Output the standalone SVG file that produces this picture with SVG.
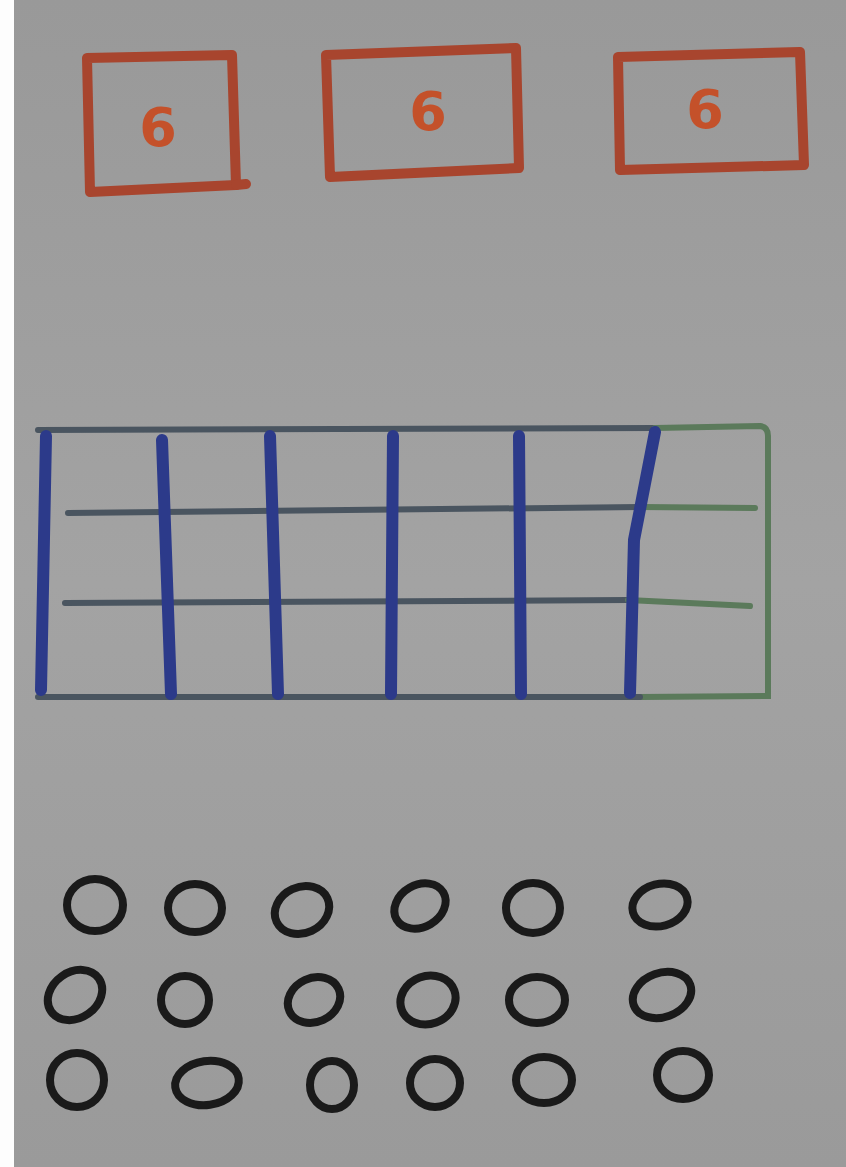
<svg xmlns="http://www.w3.org/2000/svg" width="846" height="1167" viewBox="0 0 846 1167">
<defs>
<linearGradient id="bg" x1="0" y1="0" x2="0" y2="1">
<stop offset="0" stop-color="#999999"/>
<stop offset="0.5" stop-color="#a3a3a3"/>
<stop offset="1" stop-color="#9a9a9a"/>
</linearGradient>
</defs>
<style>
.box{fill:none;stroke:#a8452e;stroke-width:10;stroke-linejoin:round;stroke-linecap:round}
.six{font-family:"DejaVu Sans",sans-serif;font-weight:bold;font-size:54px;fill:#c4512a;text-anchor:middle}
.blue{fill:none;stroke:#2c3a8a;stroke-width:12;stroke-linecap:round}
.hline{fill:none;stroke:#4a5560;stroke-width:6;stroke-linecap:round}
.green{fill:none;stroke:#5b7a5b;stroke-width:6;stroke-linecap:round}
.dot{fill:none;stroke:#1a1a1a;stroke-width:8}
</style>
<rect x="0" y="0" width="846" height="1167" fill="url(#bg)"/>
<rect x="0" y="0" width="14" height="1167" fill="#fdfdfd"/>

<g id="box1">
<path class="box" d="M87 58 L232 55 L236 185 L90 192 Z"/>
<path class="box" d="M236 185 L246 184"/>
<text class="six" x="158" y="146">6</text>
</g>
<g id="box2">
<path class="box" d="M326 55 L516 48 L519 168 L330 177 Z"/>
<text class="six" x="428" y="130">6</text>
</g>
<g id="box3">
<path class="box" d="M618 57 L800 52 L804 165 L620 170 Z"/>
<text class="six" x="705" y="128">6</text>
</g>

<g id="grid">
<path class="hline" d="M38 430 L655 428"/>
<path class="green" d="M655 428 L760 426 Q768 427 768 436 L768 696 L640 697"/>
<path class="hline" d="M38 697 L640 697"/>
<path class="hline" d="M68 513 L640 507"/>
<path class="green" d="M640 507 L755 508"/>
<path class="hline" d="M65 603 L628 600"/>
<path class="green" d="M628 600 L750 606"/>
<path class="blue" d="M46 436 L41 690"/>
<path class="blue" d="M162 440 L171 694"/>
<path class="blue" d="M270 436 L278 694"/>
<path class="blue" d="M393 436 L391 694"/>
<path class="blue" d="M519 436 L521 694"/>
<path class="blue" d="M655 432 L634 540 L630 693"/>
</g>

<g id="dots">
<ellipse class="dot" cx="95" cy="905" rx="28" ry="26"/>
<ellipse class="dot" cx="195" cy="908" rx="27" ry="24"/>
<ellipse class="dot" cx="302" cy="910" rx="28" ry="23" transform="rotate(-25 302 910)"/>
<ellipse class="dot" cx="420" cy="906" rx="27" ry="21" transform="rotate(-30 420 906)"/>
<ellipse class="dot" cx="533" cy="908" rx="27" ry="25"/>
<ellipse class="dot" cx="660" cy="905" rx="28" ry="21" transform="rotate(-15 660 905)"/>

<ellipse class="dot" cx="75" cy="995" rx="29" ry="23" transform="rotate(-35 75 995)"/>
<ellipse class="dot" cx="185" cy="1000" rx="24" ry="24"/>
<ellipse class="dot" cx="314" cy="1000" rx="27" ry="22" transform="rotate(-25 314 1000)"/>
<ellipse class="dot" cx="428" cy="1000" rx="28" ry="24" transform="rotate(-20 428 1000)"/>
<ellipse class="dot" cx="537" cy="1000" rx="28" ry="23"/>
<ellipse class="dot" cx="662" cy="995" rx="30" ry="22" transform="rotate(-20 662 995)"/>

<ellipse class="dot" cx="77" cy="1080" rx="27" ry="27"/>
<ellipse class="dot" cx="207" cy="1083" rx="32" ry="22" transform="rotate(-8 207 1083)"/>
<ellipse class="dot" cx="332" cy="1085" rx="22" ry="24"/>
<ellipse class="dot" cx="435" cy="1083" rx="25" ry="24"/>
<ellipse class="dot" cx="544" cy="1080" rx="28" ry="23"/>
<ellipse class="dot" cx="683" cy="1075" rx="26" ry="24"/>
</g>
</svg>
